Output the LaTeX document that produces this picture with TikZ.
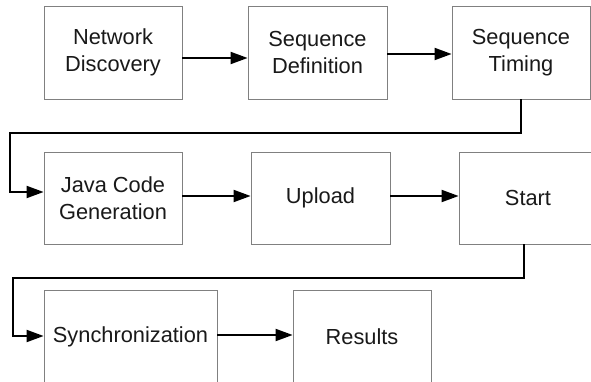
\documentclass[tikz,border=0pt]{standalone}
\usepackage{fontspec}
\setmainfont{Liberation Sans}
\usetikzlibrary{arrows.meta}
\tikzset{
  box/.style={draw=black!50, line width=0.8pt, fill=white, align=center, inner sep=0pt,
    font=\fontsize{21.8}{26.5}\selectfont, text=black!90},
  conn/.style={draw=black, line width=2pt, -{Triangle[length=17pt,width=12pt]}}
}
\begin{document}
\begin{tikzpicture}[x=1pt,y=-1pt]
\useasboundingbox (0,0) rectangle (591,382);
\clip (0,0) rectangle (591,382);
\fill[white] (0,0) rectangle (591,382);
\node[box, minimum width=138pt, minimum height=93pt] (nd) at (113,52.5) {Network\\Discovery};
\node[box, minimum width=139pt, minimum height=93pt] (sd) at (317.5,52.5) {Sequence\\Definition};
\node[box, minimum width=138pt, minimum height=93pt] (st) at (521,52.5) {Sequence\\Timing};
\node[box, minimum width=138pt, minimum height=92pt] (jc) at (113,198) {Java Code\\Generation};
\node[box, minimum width=139pt, minimum height=92pt] (up) at (320.5,198) {Upload};
\node[box, minimum width=138pt, minimum height=92pt] (sr) at (528,198) {Start};
\node[box, minimum width=173pt, minimum height=93pt] (sy) at (130.5,336.5) {Synchronization};
\node[box, minimum width=138pt, minimum height=93pt] (rs) at (362,336.5) {Results};
\coordinate (c1) at (10,192);
\coordinate (c2) at (13,336);
\draw[conn] (nd.east |- 0,58) -- (sd.west |- 0,58);
\draw[conn] (sd.east |- 0,54) -- (st.west |- 0,54);
\draw[conn] (st.south) -- (st.south |- 0,133) -| (c1) -- (jc.west |- c1);
\draw[conn] (jc.east |- 0,196) -- (up.west |- 0,196);
\draw[conn] (up.east |- 0,196) -- (sr.west |- 0,196);
\draw[conn] ([xshift=-4pt]sr.south) -- ([xshift=-4pt]sr.south |- 0,278) -| (c2) -- (sy.west |- c2);
\draw[conn] (sy.east |- 0,335) -- (rs.west |- 0,335);
\end{tikzpicture}
\end{document}
